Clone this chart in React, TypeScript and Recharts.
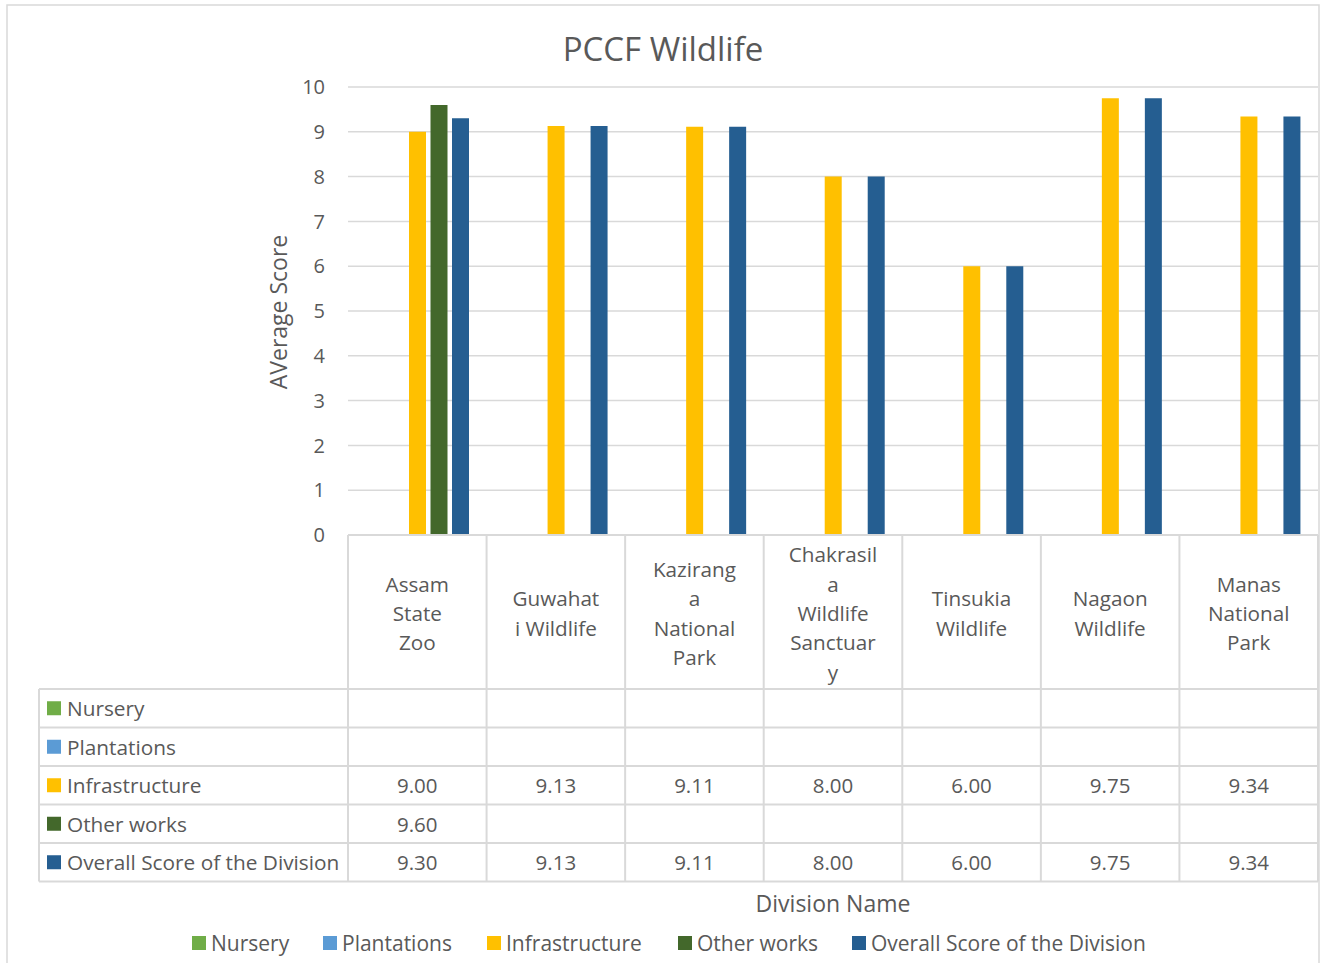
import React from 'react';
import { BarChart, Bar, XAxis, YAxis, CartesianGrid } from 'recharts';

const categories = [
    'Assam State Zoo',
    'Guwahati Wildlife',
    'Kaziranga National Park',
    'Chakrasila Wildlife Sanctuary',
    'Tinsukia Wildlife',
    'Nagaon Wildlife',
    'Manas National Park',
];

// wrapped the way the data table header shows them
const categoryLines = [
    ['Assam', 'State', 'Zoo'],
    ['Guwahat', 'i Wildlife'],
    ['Kazirang', 'a', 'National', 'Park'],
    ['Chakrasil', 'a', 'Wildlife', 'Sanctuar', 'y'],
    ['Tinsukia', 'Wildlife'],
    ['Nagaon', 'Wildlife'],
    ['Manas', 'National', 'Park'],
];

const nursery: (number | null)[] = [null, null, null, null, null, null, null];
const plantations: (number | null)[] = [null, null, null, null, null, null, null];
const infrastructure: (number | null)[] = [9.0, 9.13, 9.11, 8.0, 6.0, 9.75, 9.34];
const otherWorks: (number | null)[] = [9.6, null, null, null, null, null, null];
const overall: (number | null)[] = [9.3, 9.13, 9.11, 8.0, 6.0, 9.75, 9.34];

const yTicks = [0, 1, 2, 3, 4, 5, 6, 7, 8, 9, 10];

const series = [
    { key: 'nursery', name: 'Nursery', color: '#70AD47', values: nursery },
    { key: 'plantations', name: 'Plantations', color: '#5B9BD5', values: plantations },
    { key: 'infrastructure', name: 'Infrastructure', color: '#FFC000', values: infrastructure },
    { key: 'otherWorks', name: 'Other works', color: '#43682B', values: otherWorks },
    { key: 'overall', name: 'Overall Score of the Division', color: '#255E91', values: overall },
];

const data = categories.map((c, i) => {
    const row: any = { category: c, idx: i };
    series.forEach((s) => {
        row[s.key] = s.values[i];
    });
    return row;
});

const FONT = '"Open Sans", "DejaVu Sans", sans-serif';
const TEXT = '#595959';
const GRID = '#D9D9D9';

const PLOT_LEFT = 348;
const PLOT_RIGHT = 1318;
const PLOT_BOTTOM = 535;
const HEADER_BOTTOM = 689;
const ROW_H = 38.5;
const TABLE_LEFT = 39;
const COL_W = (PLOT_RIGHT - PLOT_LEFT) / categories.length;

// one column of the data table, placed by the x axis
const TableColumn = (props: any) => {
    const { x, payload } = props;
    const i = payload.index;
    const lines = categoryLines[i];
    const lineH = 29.3;
    const startY = 613 - ((lines.length - 1) * lineH) / 2;
    return (
        <g>
            {lines.map((l, k) => (
                <text
                    key={k}
                    x={x}
                    y={startY + k * lineH}
                    textAnchor="middle"
                    dominantBaseline="central"
                    fontSize={20.7}
                    fontFamily={FONT}
                    fill={TEXT}
                >
                    {l}
                </text>
            ))}
            {series.map((s, r) => {
                const v = s.values[i];
                if (v == null) return null;
                return (
                    <text
                        key={s.key}
                        x={x}
                        y={HEADER_BOTTOM + r * ROW_H + ROW_H / 2}
                        textAnchor="middle"
                        dominantBaseline="central"
                        fontSize={20.5}
                        fontFamily={FONT}
                        fill={TEXT}
                    >
                        {v.toFixed(2)}
                    </text>
                );
            })}
        </g>
    );
};

const legendX = [192, 323, 487, 678, 852];

export default function App() {
    const tableBottom = HEADER_BOTTOM + series.length * ROW_H;
    return (
        <div style={{ position: 'absolute', left: 0, top: 0, width: 1321, height: 963, background: '#fff', fontFamily: FONT }}>
            <svg width={1321} height={963} style={{ position: 'absolute', left: 0, top: 0 }}>
                <rect x={7} y={5} width={1312} height={970} fill="#fff" stroke={GRID} strokeWidth={1.5} />
            </svg>
            <div style={{ position: 'absolute', left: 0, top: 0 }}>
                <BarChart
                    width={1321}
                    height={963}
                    data={data}
                    margin={{ top: 87, right: 1321 - PLOT_RIGHT, left: PLOT_LEFT - 60, bottom: 963 - PLOT_BOTTOM - 30 }}
                    barSize={17}
                    barGap={4.5}
                >
                    <CartesianGrid vertical={false} stroke={GRID} strokeWidth={1.5} />
                    <XAxis
                        dataKey="category"
                        height={30}
                        axisLine={false}
                        tickLine={false}
                        tickSize={0}
                        tickMargin={0}
                        interval={0}
                        tick={<TableColumn />}
                    />
                    <YAxis
                        width={60}
                        domain={[0, 10]}
                        ticks={yTicks}
                        axisLine={false}
                        tickLine={false}
                        tickSize={0}
                        tickMargin={23}
                        tick={{ fontSize: 20, fill: TEXT, fontFamily: FONT }}
                    />
                    {series.map((s) => (
                        <Bar key={s.key} dataKey={s.key} name={s.name} fill={s.color} isAnimationActive={false} />
                    ))}
                </BarChart>
            </div>
            <svg width={1321} height={963} style={{ position: 'absolute', left: 0, top: 0, pointerEvents: 'none' }}>
                <text x={663} y={48} textAnchor="middle" dominantBaseline="central" fontSize={33} fontFamily={FONT} fill={TEXT}>
                    PCCF Wildlife
                </text>
                <text
                    x={278}
                    y={312}
                    transform="rotate(-90 278 312)"
                    textAnchor="middle"
                    dominantBaseline="central"
                    fontSize={23}
                    fontFamily={FONT}
                    fill={TEXT}
                >
                    AVerage Score
                </text>

                {/* data table grid */}
                <g stroke={GRID} strokeWidth={2}>
                    <line x1={PLOT_LEFT} y1={PLOT_BOTTOM} x2={PLOT_RIGHT} y2={PLOT_BOTTOM} />
                    {series.map((s, r) => (
                        <line key={s.key} x1={TABLE_LEFT} y1={HEADER_BOTTOM + r * ROW_H} x2={PLOT_RIGHT} y2={HEADER_BOTTOM + r * ROW_H} />
                    ))}
                    <line x1={TABLE_LEFT} y1={tableBottom} x2={PLOT_RIGHT} y2={tableBottom} />
                    <line x1={TABLE_LEFT} y1={HEADER_BOTTOM} x2={TABLE_LEFT} y2={tableBottom} />
                    {categories.map((c, i) => (
                        <line key={c} x1={PLOT_LEFT + i * COL_W} y1={PLOT_BOTTOM} x2={PLOT_LEFT + i * COL_W} y2={tableBottom} />
                    ))}
                    <line x1={PLOT_RIGHT} y1={PLOT_BOTTOM} x2={PLOT_RIGHT} y2={tableBottom} />
                </g>
                {series.map((s, r) => {
                    const cy = HEADER_BOTTOM + r * ROW_H + ROW_H / 2;
                    return (
                        <g key={s.key}>
                            <rect x={47} y={cy - 7} width={14} height={14} fill={s.color} />
                            <text x={67} y={cy} dominantBaseline="central" fontSize={20.8} fontFamily={FONT} fill={TEXT}>
                                {s.name}
                            </text>
                        </g>
                    );
                })}

                <text x={833} y={903} textAnchor="middle" dominantBaseline="central" fontSize={23} fontFamily={FONT} fill={TEXT}>
                    Division Name
                </text>

                {/* legend */}
                {series.map((s, r) => (
                    <g key={s.key}>
                        <rect x={legendX[r]} y={936} width={14} height={14} fill={s.color} />
                        <text x={legendX[r] + 19} y={943} dominantBaseline="central" fontSize={21} fontFamily={FONT} fill={TEXT}>
                            {s.name}
                        </text>
                    </g>
                ))}
            </svg>
        </div>
    );
}
